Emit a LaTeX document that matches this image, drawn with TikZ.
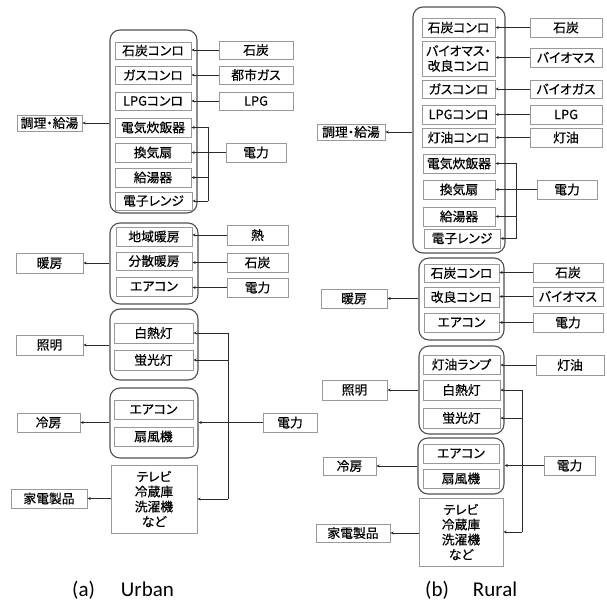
\documentclass[tikz,border=0pt]{standalone}
\usepackage{fontspec}
\setmainfont{Noto Sans CJK JP}[RawFeature=+palt, FakeBold=0.35]
\newfontfamily\capfont{Carlito}
\usetikzlibrary{arrows.meta}
\definecolor{boxgray}{HTML}{999999}
\definecolor{biggray}{HTML}{505050}
\definecolor{linegray}{HTML}{2A2A2A}
\tikzset{
  ibox/.style={draw=boxgray, line width=0.9pt, inner sep=0pt, fill=white, align=center,
    font=\fontsize{12.8}{15}\selectfont},
  gbox/.style={draw=biggray, line width=1.1pt, rounded corners=10pt, inner sep=0pt},
  conn/.style={draw=linegray, line width=0.9pt},
  arr/.style={conn, -{Stealth[length=3.2pt,width=3pt]}},
  captxt/.style={font=\capfont\fontsize{21}{24}\selectfont, anchor=base west, inner sep=0pt},
}
% \bx[style]{name}{x1}{y1}{x2}{y2}{text}
\newcommand\bx[7][ibox]{%
  \pgfmathsetmacro\cxx{(#3+#5)/2}\pgfmathsetmacro\cyy{(#4+#6)/2}%
  \pgfmathsetmacro\ww{#5-#3}\pgfmathsetmacro\hh{#6-#4}%
  \node[#1, minimum width=\ww pt, minimum height=\hh pt] (#2) at (\cxx,\cyy) {#7};}
\begin{document}
\begin{tikzpicture}[x=1pt,y=-1pt]
\useasboundingbox[fill=white] (0,0) rectangle (607,604);

% ================= (a) Urban =================
% cooking
\bx[gbox]{uCook}{110}{30}{197}{213}{}
\bx{u1}{115}{42}{191}{59}{石炭コンロ}
\bx{u2}{115}{66}{191}{84}{ガスコンロ}
\bx{u3}{115}{92}{191}{110}{LPGコンロ}
\bx{u4}{115}{118}{191}{137}{電気炊飯器}
\bx{u5}{115}{143}{191}{162}{換気扇}
\bx{u6}{115}{168}{191}{187}{給湯器}
\bx{u7}{115}{192}{192}{210}{電子レンジ}
\bx{uf1}{219}{41}{293}{59}{石炭}
\bx{uf2}{219}{66}{293}{84}{都市ガス}
\bx{uf3}{219}{92}{293}{110}{LPG}
\bx{ue1}{226}{143}{286}{162}{電力}
\bx{uc1}{17}{115}{82}{131}{調理・給湯}
\coordinate (ubus) at (208,0);
\draw[arr] (uf1.west) -- (uf1.west -| u1.east);
\draw[arr] (uf2.west) -- (uf2.west -| u2.east);
\draw[arr] (uf3.west) -- (uf3.west -| u3.east);
\draw[conn] (ubus |- u4.east) -- (ubus |- u7.east);
\foreach \n in {u4,u5,u6,u7} \draw[arr] (ubus |- \n.east) -- (\n.east);
\draw[conn] (ue1.west) -- (ue1.west -| ubus);
\draw[arr] (uc1.east -| uCook.west) -- (uc1.east);

% heating
\bx[gbox]{uHeat}{110}{223}{198}{304}{}
\bx{h1}{116}{227}{192}{246}{地域暖房}
\bx{h2}{116}{252}{192}{270}{分散暖房}
\bx{h3}{116}{277}{192}{296}{エアコン}
\bx{hf1}{227}{225}{288}{245}{熱}
\bx{hf2}{227}{253}{288}{272}{石炭}
\bx{hf3}{227}{278}{288}{297}{電力}
\bx{uc2}{16}{253}{83}{273}{暖房}
\draw[arr] (hf1.west) -- (hf1.west -| h1.east);
\draw[arr] (hf2.west) -- (hf2.west -| h2.east);
\draw[arr] (hf3.west) -- (hf3.west -| h3.east);
\draw[arr] (uc2.east -| uHeat.west) -- (uc2.east);

% lighting
\bx[gbox]{uLight}{110}{309}{198}{380}{}
\bx{l1}{114}{323}{193}{343}{白熱灯}
\bx{l2}{114}{350}{193}{370}{蛍光灯}
\bx{uc3}{16}{335}{83}{355}{照明}
\draw[arr] (uc3.east -| uLight.west) -- (uc3.east);

% cooling
\bx[gbox]{uCool}{110}{388}{198}{458}{}
\bx{k1}{114}{400}{193}{419}{エアコン}
\bx{k2}{114}{427}{193}{446}{扇風機}
\bx{uc4}{17}{413}{80}{432}{冷房}
\draw[arr] (uc4.east -| uCool.west) -- (uc4.east);

% appliances
\bx{utv}{111}{465}{197}{533}{テレビ\\冷蔵庫\\洗濯機\\など}
\bx{uc5}{11}{489}{87}{508}{家電製品}
\draw[arr] (uc5.east -| utv.west) -- (uc5.east);

% electricity bus
\bx{ue2}{263}{413}{317}{432}{電力}
\coordinate (ubus2) at (228,0);
\draw[conn] (ubus2 |- l1.east) -- (ubus2 |- utv.east);
\draw[arr] (ubus2 |- l1.east) -- (l1.east);
\draw[arr] (ubus2 |- l2.east) -- (l2.east);
\draw[arr] (ue2.west) -- (ue2.west -| uCool.east);
\draw[arr] (ubus2 |- utv.east) -- (utv.east);

\node[captxt] (capa) at (72,596) {(a)\hspace*{26pt}Urban};

% ================= (b) Rural =================
\bx[gbox]{rCook}{413}{7}{505}{253}{}
\bx{r1}{422}{18}{495}{37}{石炭コンロ}
\bx{r2}{422}{41}{495}{76}{バイオマス・\\改良コンロ}
\bx{r3}{422}{80}{495}{98}{ガスコンロ}
\bx{r4}{422}{105}{495}{124}{LPGコンロ}
\bx{r5}{422}{128}{495}{147}{灯油コンロ}
\bx{r6}{423}{154}{495}{173}{電気炊飯器}
\bx{r7}{423}{180}{495}{199}{換気扇}
\bx{r8}{423}{207}{495}{226}{給湯器}
\bx{r9}{424}{229}{500}{248}{電子レンジ}
\bx{rf1}{530}{18}{602}{37}{石炭}
\bx{rf2}{530}{48}{602}{67}{バイオマス}
\bx{rf3}{530}{80}{602}{98}{バイオガス}
\bx{rf4}{530}{105}{602}{124}{LPG}
\bx{rf5}{530}{128}{602}{147}{灯油}
\bx{re1}{537}{180}{597}{199}{電力}
\bx{rc1}{317}{124}{385}{140}{調理・給湯}
\coordinate (rbus) at (516,0);
\draw[arr] (rf1.west) -- (rf1.west -| r1.east);
\draw[arr] (rf2.west) -- (rf2.west -| r2.east);
\draw[arr] (rf3.west) -- (rf3.west -| r3.east);
\draw[arr] (rf4.west) -- (rf4.west -| r4.east);
\draw[arr] (rf5.west) -- (rf5.west -| r5.east);
\draw[conn] (rbus |- r6.east) -- (rbus |- r9.east);
\foreach \n in {r6,r7,r8,r9} \draw[arr] (rbus |- \n.east) -- (\n.east);
\draw[conn] (re1.west) -- (re1.west -| rbus);
\draw[arr] (rc1.east -| rCook.west) -- (rc1.east);

% heating
\bx[gbox]{rHeat}{419}{258}{504}{340}{}
\bx{rh1}{424}{264}{499}{282}{石炭コンロ}
\bx{rh2}{424}{287}{499}{307}{改良コンロ}
\bx{rh3}{424}{313}{499}{332}{エアコン}
\bx{rhf1}{533}{263}{603}{282}{石炭}
\bx{rhf2}{533}{287}{603}{306}{バイオマス}
\bx{rhf3}{533}{313}{603}{332}{電力}
\bx{rc2}{321}{289}{387}{308}{暖房}
\draw[arr] (rhf1.west) -- (rhf1.west -| rh1.east);
\draw[arr] (rhf2.west) -- (rhf2.west -| rh2.east);
\draw[arr] (rhf3.west) -- (rhf3.west -| rh3.east);
\draw[arr] (rc2.east -| rHeat.west) -- (rc2.east);

% lighting
\bx[gbox]{rLight}{419}{346}{504}{434}{}
\bx{rl0}{423}{355}{500}{374}{灯油ランプ}
\bx{rl1}{423}{380}{500}{400}{白熱灯}
\bx{rl2}{423}{408}{500}{428}{蛍光灯}
\bx{rlf}{536}{355}{604}{375}{灯油}
\bx{rc3}{322}{380}{387}{400}{照明}
\draw[arr] (rlf.west) -- (rlf.west -| rl0.east);
\draw[arr] (rc3.east -| rLight.west) -- (rc3.east);

% cooling
\bx[gbox]{rCool}{418}{438}{504}{494}{}
\bx{rk1}{423}{444}{499}{463}{エアコン}
\bx{rk2}{423}{469}{499}{488}{扇風機}
\bx{rc4}{323}{457}{376}{475}{冷房}
\draw[arr] (rc4.east -| rCool.west) -- (rc4.east);

% appliances
\bx{rtv}{419}{498}{503}{566}{テレビ\\冷蔵庫\\洗濯機\\など}
\bx{rc5}{316}{524}{390}{542}{家電製品}
\draw[arr] (rc5.east -| rtv.west) -- (rc5.east);

% electricity bus
\bx{re2}{544}{456}{595}{475}{電力}
\coordinate (rbus2) at (522,0);
\draw[conn] (rbus2 |- rl1.east) -- (rbus2 |- rtv.east);
\draw[arr] (rbus2 |- rl1.east) -- (rl1.east);
\draw[arr] (rbus2 |- rl2.east) -- (rl2.east);
\draw[arr] (re2.west) -- (re2.west -| rCool.east);
\draw[arr] (rbus2 |- rtv.east) -- (rtv.east);

\node[captxt] (capb) at (425,596) {(b)\hspace*{24pt}Rural};
\end{tikzpicture}
\end{document}
